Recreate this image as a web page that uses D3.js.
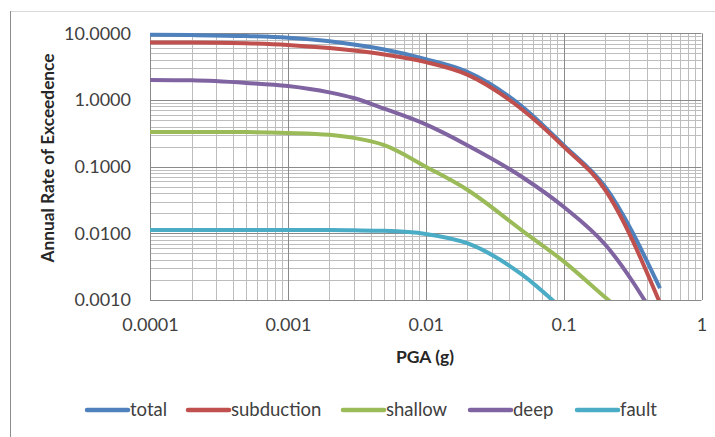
<!DOCTYPE html>
<html><head><meta charset="utf-8">
<script src="https://cdn.jsdelivr.net/npm/d3@7"></script>
<style>
html,body{margin:0;padding:0;background:#fff;}
text{font-family:Lato,"Open Sans",sans-serif;}
</style></head>
<body><svg id="c" width="715" height="437"></svg>
<script>
const pga = [0.0001, 0.0002, 0.0005, 0.001, 0.002, 0.003, 0.005, 0.01, 0.02, 0.05, 0.1, 0.2, 0.5];
const total      = [9.5, 9.4, 9.1, 8.6, 7.6, 6.8, 5.7, 4.1, 2.65, 0.80, 0.21, 0.050, 0.0015];
const subduction = [7.3, 7.3, 7.1, 6.7, 6.0, 5.5, 4.8, 3.7, 2.4, 0.72, 0.20, 0.045, 0.0009];
const shallow    = [0.33, 0.33, 0.33, 0.32, 0.30, 0.27, 0.21, 0.10, 0.045, 0.011, 0.0038, 0.0011, 0.00022];
const deep       = [2.0, 1.97, 1.8, 1.62, 1.3, 1.07, 0.74, 0.43, 0.21, 0.07, 0.025, 0.0068, 0.00042];
const fault      = [0.0112, 0.0112, 0.0112, 0.0112, 0.0112, 0.0111, 0.0109, 0.0098, 0.0071, 0.0024, 0.0007, null, null];
const seriesNames = ["total", "subduction", "shallow", "deep", "fault"];
const seriesColors = ["#4F81BD", "#C0504D", "#9BBB59", "#8064A2", "#4BACC6"];
const xTicks = [0.0001, 0.001, 0.01, 0.1, 1];
const yTicks = [10, 1, 0.1, 0.01, 0.001];
const xTitle = "PGA (g)";
const yTitle = "Annual Rate of Exceedence";

const seriesData = [total, subduction, shallow, deep, fault];
const svg = d3.select("#c");

// chart frame
svg.append("rect").attr("x", 10.5).attr("y", 11.5).attr("width", 720).attr("height", 440)
  .attr("fill", "#fff").attr("stroke", "#d9d9d9");
svg.append("line").attr("x1", 10.5).attr("x2", 10.5).attr("y1", 11).attr("y2", 437)
  .attr("stroke", "#8c8c8c");

const x = d3.scaleLog().domain([0.0001, 1]).range([150, 701.5]);
const y = d3.scaleLog().domain([0.001, 10]).range([300, 33.3]);

const g = svg.append("g");
// minor grid
const xMinor = [], yMinor = [];
for (let e = -4; e < 0; e++) for (let m = 2; m <= 9; m++) xMinor.push(m * Math.pow(10, e));
for (let e = -3; e < 1; e++) for (let m = 2; m <= 9; m++) yMinor.push(m * Math.pow(10, e));
g.selectAll(".xm").data(xMinor).join("line")
  .attr("x1", d => Math.round(x(d)) + 0.5).attr("x2", d => Math.round(x(d)) + 0.5)
  .attr("y1", y(10)).attr("y2", y(0.001)).attr("stroke", "#bdbdbd").attr("stroke-width", 1);
g.selectAll(".ym").data(yMinor).join("line")
  .attr("y1", d => Math.round(y(d)) + 0.5).attr("y2", d => Math.round(y(d)) + 0.5)
  .attr("x1", x(0.0001)).attr("x2", x(1)).attr("stroke", "#bdbdbd").attr("stroke-width", 1);
// major grid
g.selectAll(".xM").data(xTicks).join("line")
  .attr("x1", d => Math.round(x(d)) + 0.5).attr("x2", d => Math.round(x(d)) + 0.5)
  .attr("y1", y(10)).attr("y2", y(0.001)).attr("stroke", "#8a8a8a").attr("stroke-width", 1);
g.selectAll(".yM").data(yTicks).join("line")
  .attr("y1", d => Math.round(y(d)) + 0.5).attr("y2", d => Math.round(y(d)) + 0.5)
  .attr("x1", x(0.0001)).attr("x2", x(1)).attr("stroke", "#8a8a8a").attr("stroke-width", 1);

// axes labels
const xAxis = d3.axisBottom(x).tickValues(xTicks).tickFormat(d => String(+d.toPrecision(1))).tickSize(0).tickPadding(0);
const ax = svg.append("g").attr("transform", "translate(0,318)").call(xAxis);
ax.select(".domain").remove();
ax.selectAll("text").attr("font-size", 18).attr("fill", "#404040").attr("dy", "0.7em")
  .style("font-family", "Lato, sans-serif");

const yAxis = d3.axisLeft(y).tickValues(yTicks).tickFormat(d3.format(".4f")).tickSize(0).tickPadding(0);
const ay = svg.append("g").attr("transform", "translate(131,0)").call(yAxis);
ay.select(".domain").remove();
ay.selectAll("text").attr("font-size", 18).attr("fill", "#404040")
  .style("font-family", "Lato, sans-serif");

svg.append("text").attr("x", 425).attr("y", 363).attr("text-anchor", "middle")
  .attr("font-size", 17.5).attr("font-weight", "bold").attr("fill", "#262626").text(xTitle);
svg.append("text").attr("transform", "translate(54,158) rotate(-90)").attr("text-anchor", "middle")
  .attr("font-size", 17.3).attr("font-weight", "bold").attr("fill", "#262626").text(yTitle);

// series
svg.append("clipPath").attr("id", "clip").append("rect")
  .attr("x", 145).attr("y", 28).attr("width", 570).attr("height", 272);
const line = d3.line().defined(d => d[1] != null).x(d => x(d[0])).y(d => y(d[1])).curve(d3.curveMonotoneX);
const order = [3, 2, 4, 0, 1];
order.forEach(i => {
  const pts = pga.map((p, j) => [p, seriesData[i][j]]);
  svg.append("path").attr("d", line(pts)).attr("fill", "none")
    .attr("stroke", seriesColors[i]).attr("stroke-width", 4).attr("stroke-linejoin", "round")
    .attr("clip-path", "url(#clip)");
});

// legend
const legX = [87, 188, 343, 470, 577];
const leg = svg.append("g");
seriesNames.forEach((n, i) => {
  leg.append("line").attr("x1", legX[i]).attr("x2", legX[i] + 41).attr("y1", 410).attr("y2", 410)
    .attr("stroke", seriesColors[i]).attr("stroke-width", 4.5).attr("stroke-linecap", "round");
  leg.append("text").attr("x", legX[i] + 43).attr("y", 410).attr("dy", "0.35em")
    .attr("font-size", 18.5).attr("fill", "#404040").text(n);
});
</script></body></html>
